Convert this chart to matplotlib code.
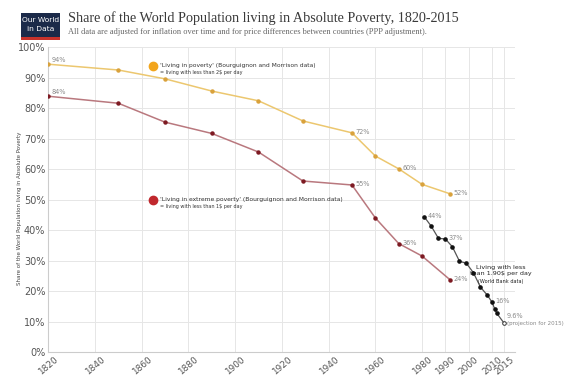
import matplotlib

matplotlib.use("Agg")

import matplotlib.pyplot as plt
import matplotlib.transforms as mtransforms
from matplotlib.patches import Rectangle

# Bourguignon and Morrison data
bm_years = [1820, 1850, 1870, 1890, 1910, 1929, 1950, 1960, 1970, 1980, 1992]
poverty = [94.4, 92.5, 89.6, 85.6, 82.4, 75.8, 71.9, 64.3, 60.1, 55.0, 51.9]
extreme = [83.9, 81.6, 75.4, 71.7, 65.6, 56.1, 54.8, 44.0, 35.6, 31.5, 23.7]
poverty_labels = {1820: "94%", 1950: "72%", 1970: "60%", 1992: "52%"}
extreme_labels = {1820: "84%", 1950: "55%", 1970: "36%", 1992: "24%"}

# World Bank data
wb_years = [1981, 1984, 1987, 1990, 1993, 1996, 1999, 2002, 2005, 2008, 2010, 2011, 2012]
wb_values = [44.3, 41.2, 37.3, 37.1, 34.5, 29.8, 29.1, 26.0, 21.3, 18.6, 16.3, 14.3, 12.7]
wb_proj_year = 2015
wb_proj_value = 9.6
wb_labels = {1981: "44%", 1990: "37%", 2010: "16%"}

x_ticks = [1820, 1840, 1860, 1880, 1900, 1920, 1940, 1960, 1980, 1990, 2000, 2010, 2015]
y_ticks = list(range(0, 101, 10))

gold_line = "#ecc76f"
gold_dot = "#d9a23c"
red_line = "#b9787e"
red_dot = "#7d1a22"
label_grey = "#8a8a8a"
lab_fs = 4.7

fig = plt.figure(figsize=(5.67, 3.77), dpi=100)
ax = fig.add_axes([0.085, 0.066, 0.823, 0.809])

ax.plot(bm_years, poverty, color=gold_line, lw=1.1, marker="o", ms=2.2,
        mfc=gold_dot, mec=gold_dot, zorder=3)
ax.plot(bm_years, extreme, color=red_line, lw=1.1, marker="o", ms=2.2,
        mfc=red_dot, mec=red_dot, zorder=3)
ax.plot(wb_years + [wb_proj_year], wb_values + [wb_proj_value], color="#555555", lw=0.9, zorder=3)
ax.plot(wb_years, wb_values, ls="none", marker="o", ms=2.3, color="#111111", zorder=4)
ax.plot([wb_proj_year], [wb_proj_value], ls="none", marker="o", ms=2.6, mfc="white",
        mec="#333333", mew=0.7, zorder=4)

for yr, txt in poverty_labels.items():
    ax.text(yr + 1.5, poverty[bm_years.index(yr)] + 0.3, txt, fontsize=lab_fs, color=label_grey,
            va="bottom" if yr == 1820 else "center")
for yr, txt in extreme_labels.items():
    ax.text(yr + 1.5, extreme[bm_years.index(yr)] + 0.3, txt, fontsize=lab_fs, color=label_grey,
            va="bottom" if yr == 1820 else "center")
for yr, txt in wb_labels.items():
    ax.text(yr + 1.5, wb_values[wb_years.index(yr)] + 0.3, txt, fontsize=lab_fs, color=label_grey,
            va="center")
ax.text(wb_proj_year + 1.0, wb_proj_value + 2.3, "9.6%", fontsize=lab_fs, color=label_grey, va="center")
ax.text(wb_proj_year + 1.3, wb_proj_value - 0.2, "(projection for 2015)", fontsize=4.0,
        color=label_grey, va="center")

# legend-like annotations
ax.plot([1865], [93.9], "o", ms=6, color="#f2a51c", clip_on=False)
ax.text(1868, 94.1, "'Living in poverty' (Bourguignon and Morrison data)", fontsize=4.3,
        color="#333333", va="center")
ax.text(1868, 91.6, "= living with less than 2$ per day", fontsize=3.5, color="#333333", va="center")
ax.plot([1865], [49.8], "o", ms=6, color="#c0282d")
ax.text(1868, 50.0, "'Living in extreme poverty' (Bourguignon and Morrison data)", fontsize=4.3,
        color="#333333", va="center")
ax.text(1868, 47.6, "= living with less than 1$ per day", fontsize=3.5, color="#333333", va="center")

ax.text(2013.5, 26.9, "Living with less\nthan 1.90$ per day", fontsize=4.6, color="#222222",
        ha="center", va="center", linespacing=1.25)
ax.text(2013.5, 23.3, "(World Bank data)", fontsize=3.6, color="#222222", ha="center", va="center")

ax.set_xlim(1820, 2019.7)
ax.set_ylim(0, 100)
ax.set_xticks(x_ticks)
ax.set_xticklabels([str(t) for t in x_ticks], rotation=40, fontsize=6.4, color="#555555",
                   ha="center", va="top")
shift = mtransforms.ScaledTranslation(-4 / 100, 0, fig.dpi_scale_trans)
for lbl in ax.get_xticklabels():
    lbl.set_transform(lbl.get_transform() + shift)
ax.set_yticks(y_ticks)
ax.set_yticklabels([f"{t}%" for t in y_ticks], fontsize=7, color="#555555")
ax.tick_params(length=0, pad=2)
ax.grid(True, color="#e6e6e6", lw=0.7)
ax.set_axisbelow(True)
for side in ("top", "right"):
    ax.spines[side].set_visible(False)
for side in ("left", "bottom"):
    ax.spines[side].set_color("#cccccc")
ax.set_ylabel("Share of the World Population living in Absolute Poverty", fontsize=4.0,
              color="#444444")
ax.yaxis.set_label_coords(-0.056, 0.47)

# header
fig.add_artist(Rectangle((21 / 567, 1 - 37 / 377), 39 / 567, 24 / 377, transform=fig.transFigure,
                         facecolor="#1b2a49", edgecolor="none"))
fig.add_artist(Rectangle((21 / 567, 1 - 39.5 / 377), 39 / 567, 2.5 / 377, transform=fig.transFigure,
                         facecolor="#c8322b", edgecolor="none"))
fig.text(40.5 / 567, 1 - 19.5 / 377, "Our World", fontsize=5.4, color="white", ha="center", va="center")
fig.text(40.5 / 567, 1 - 29 / 377, "in Data", fontsize=5.4, color="white", ha="center", va="center")
fig.text(68 / 567, 1 - 18 / 377, "Share of the World Population living in Absolute Poverty, 1820-2015",
         fontsize=10.2, family="Liberation Serif", color="#3a3a3a", va="center")
fig.text(68 / 567, 1 - 32 / 377,
         "All data are adjusted for inflation over time and for price differences between countries (PPP adjustment).",
         fontsize=6.0, family="Liberation Serif", color="#666666", va="center")

fig.savefig("out.png", dpi=100)
